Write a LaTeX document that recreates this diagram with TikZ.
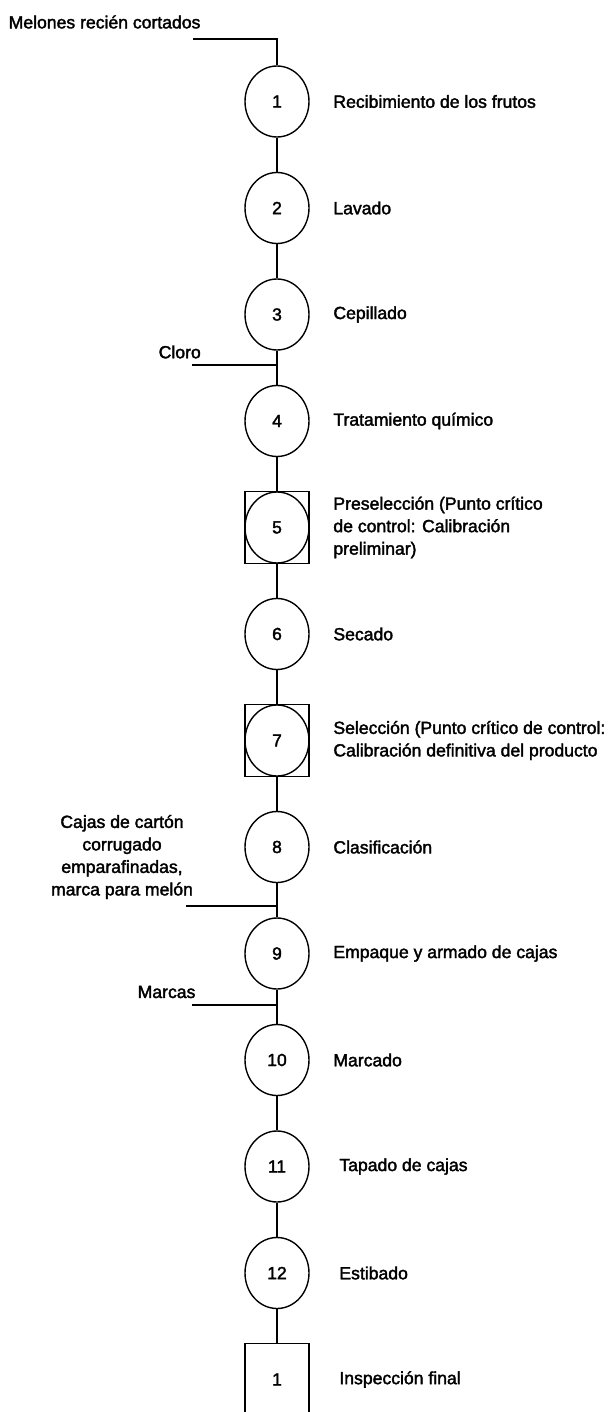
\documentclass[tikz,border=0pt]{standalone}
\usepackage{fontspec}
\setmainfont{Liberation Sans}
\newfontfamily\scanfont[FakeBold=2]{Liberation Sans}
\usetikzlibrary{positioning, shapes.geometric}

\begin{document}
\begin{tikzpicture}[x=1pt, y=-1pt,
          every path/.style={line width=1.4pt},
          op/.style={ellipse,draw,minimum width=64pt,minimum height=71pt,inner sep=0pt,
            font=\scanfont\fontsize{17.5}{20}\selectfont},
          insp/.style={rectangle,draw,minimum width=64pt,minimum height=72pt,inner sep=0pt,
            font=\scanfont\fontsize{17.5}{20}\selectfont},
          txt/.style={inner sep=0pt,font=\scanfont\fontsize{17.6}{22.5}\selectfont}
        ]
        \useasboundingbox (0,0) rectangle (613,1412);
        % operaciones del proceso
        \foreach \n/\gap/\t in {1/23pt/Recibimiento de los frutos, 2/23pt/Lavado, 3/23pt/Cepillado,
            4/23pt/Tratamiento químico, 5/23pt/{Preselección (Punto crítico\\de control: Calibración\\preliminar)},
            6/23pt/Secado, 7/23pt/{Selección (Punto crítico de control:\\Calibración definitiva del producto},
            8/23pt/Clasificación, 9/23pt/Empaque y armado de cajas, 10/23pt/Marcado,
            11/29pt/Tapado de cajas, 12/29pt/Estibado}{
          \node[op] (p\n) at (277,{101.5+(\n-1)*106.5}) {\n};
          \node[txt,align=left,right=\gap of p\n] (t\n) {\t};
        }
        % puntos criticos de control
        \node[insp] (pc5) at (p5) {};
        \node[insp] (pc7) at (p7) {};
        % inspeccion final
        \node[insp] (p13) at (277,1379.5) {1};
        \node[txt,right=29pt of p13] (t13) {Inspección final};
        \foreach \i in {1,...,12}{
          \pgfmathtruncatemacro\j{\i+1}
          \draw (p\i) -- (p\j);
        }
        % entradas
        \node[txt,anchor=west] (e1) at (8,22) {Melones recién cortados};
        \coordinate (e1l) at (193,39);
        \draw (e1l) -| (p1.north);
        \node[txt,anchor=west] (e2) at (158,352) {Cloro};
        \coordinate (e2l) at (192,365);
        \draw (e2l) -- (e2l -| p3);
        \node[txt,align=center] (e3) at (122,857) {Cajas de cartón\\corrugado\\emparafinadas,\\marca para melón};
        \coordinate (e3l) at (186,906);
        \draw (e3l) -- (e3l -| p8);
        \node[txt,anchor=west] (e4) at (137,992) {Marcas};
        \coordinate (e4l) at (192,1005);
        \draw (e4l) -- (e4l -| p9);
      \end{tikzpicture}
\end{document}
